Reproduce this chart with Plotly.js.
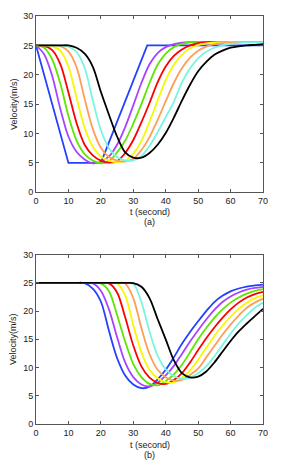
<!DOCTYPE html>
<html><head><meta charset="utf-8">
<script src="https://cdn.plot.ly/plotly-3.0.1.min.js"></script>
<style>html,body{margin:0;padding:0;background:#fff}#chart{width:283px;height:472px}</style>
</head><body><div id="chart"></div>
<script>
// shared time grid (seconds)
const tGrid = [0,2.5,5,7.5,10,12.5,15,17.5,20,22.5,25,27.5,30,32.5,35,37.5,40,42.5,45,47.5,50,52.5,55,57.5,60,62.5,65,67.5,70];

// ---- panel (a) ----
const blueA_t = [0,10,20,34.3,70];
const blueA_v = [25,5,5,25,25];
const purpleA = [25,23.5,19.8,14.2,9.5,6.9,5.6,4.95,5.2,6.1,8.1,11.1,14.8,18.6,21.8,23.7,24.7,25.2,25.45,25.55,25.6,25.6,25.6,25.6,25.6,25.6,25.6,25.6,25.6];
const greenA  = [25,24.6,22.6,18.5,13.0,8.8,6.5,5.4,4.95,5.3,6.8,8.8,11.7,15.0,18.6,21.7,23.6,24.7,25.25,25.5,25.6,25.6,25.6,25.6,25.6,25.6,25.6,25.6,25.6];
const redA    = [25,24.9,24.2,21.8,17.0,11.8,8.1,6.3,5.4,5.05,5.3,6.7,8.9,11.9,15.2,18.7,21.4,23.2,24.3,25.0,25.4,25.55,25.6,25.6,25.6,25.6,25.6,25.6,25.6];
const yellowA = [25,25,24.85,24.1,21.4,16.1,11.0,7.8,6.1,5.4,5.15,5.4,6.6,8.7,12.0,15.6,19.1,21.7,23.4,24.5,25.05,25.35,25.5,25.55,25.6,25.6,25.6,25.6,25.6];
const orangeA = [25,25,25,24.85,24.0,21.3,15.9,10.8,7.6,6.0,5.4,5.25,5.7,7.2,9.4,12.3,15.5,18.6,21.1,22.9,24.1,24.8,25.2,25.4,25.5,25.55,25.6,25.6,25.6];
const cyanA   = [25,25,25,25,24.8,23.9,21.2,15.7,10.6,7.5,6.0,5.4,5.45,6.2,7.9,10.2,12.8,15.4,18.7,21.1,22.8,23.9,24.6,25.0,25.25,25.4,25.5,25.5,25.55];
const blackA  = [25,25,25,25,25,24.6,23.6,21.4,17.1,13.2,9.5,6.8,5.9,5.9,6.7,8.1,10.1,12.7,15.6,18.3,20.6,22.2,23.4,24.1,24.6,24.85,25.0,25.1,25.2];

// ---- panel (b) ----
const blueB   = [25,25,25,25,25,25,24.95,24.0,21.7,16.5,11.7,8.6,7.0,6.35,6.6,7.9,9.6,11.8,14.2,16.3,18.2,20.0,21.6,22.7,23.5,24.0,24.35,24.55,24.7];
const purpleB = [25,25,25,25,25,25,25,24.9,23.6,20.3,15.4,10.9,8.3,7.0,6.65,7.3,8.6,10.3,12.4,14.6,16.6,18.5,20.2,21.6,22.6,23.3,23.8,24.1,24.3];
const greenB  = [25,25,25,25,25,25,25,25,24.9,23.5,19.3,14.6,10.6,8.3,7.1,6.85,7.6,8.8,10.5,12.7,15.0,17.0,18.8,20.3,21.5,22.4,23.1,23.6,23.9];
const redB    = [25,25,25,25,25,25,25,25,25,24.9,23.3,18.9,13.9,10.2,8.2,7.3,7.1,7.8,9.0,10.9,13.1,15.2,17.1,18.8,20.3,21.5,22.4,23.0,23.4];
const yellowB = [25,25,25,25,25,25,25,25,25,25,24.9,22.8,17.5,12.7,9.6,8.1,7.4,7.35,8.2,9.5,11.4,13.5,15.6,17.4,19.0,20.4,21.5,22.3,22.8];
const orangeB = [25,25,25,25,25,25,25,25,25,25,25,24.9,22.3,17.0,12.4,9.6,8.3,7.7,7.8,8.7,9.8,11.8,13.8,15.8,17.6,19.2,20.6,21.5,22.2];
const cyanB   = [25,25,25,25,25,25,25,25,25,25,25,25,24.85,21.6,16.4,12.1,9.7,8.5,8.0,8.2,9.0,10.2,12.0,14.0,16.0,17.8,19.3,20.6,21.5];
const blackB  = [25,25,25,25,25,25,25,25,25,25,25,25,24.95,24.3,22.3,18.6,15.0,11.3,9.0,8.25,8.4,9.3,10.9,12.8,14.7,16.4,17.8,19.1,20.4];

const xTicks = [0,10,20,30,40,50,60,70];
const yTicks = [0,5,10,15,20,25,30];
const colors = {blue:'#2341ff', purple:'#a744ff', green:'#5fe600', red:'#ff0000', yellow:'#f8f800', orange:'#ff9e57', cyan:'#78f5e1', black:'#000000'};

function tr(x, y, col, ax, shape){
  return {x:x, y:y, mode:'lines', type:'scatter', xaxis:'x'+ax, yaxis:'y'+ax,
    line:{color:col, width:1.8, shape:shape||'spline', smoothing:0.9}, hoverinfo:'skip', showlegend:false};
}
const data = [
  tr(blueA_t, blueA_v, colors.blue, '', 'linear'),
  tr(tGrid, purpleA, colors.purple, ''),
  tr(tGrid, greenA, colors.green, ''),
  tr(tGrid, redA, colors.red, ''),
  tr(tGrid, yellowA, colors.yellow, ''),
  tr(tGrid, orangeA, colors.orange, ''),
  tr(tGrid, cyanA, colors.cyan, ''),
  tr(tGrid, blackA, colors.black, ''),
  tr(tGrid, blueB, colors.blue, '2'),
  tr(tGrid, purpleB, colors.purple, '2'),
  tr(tGrid, greenB, colors.green, '2'),
  tr(tGrid, redB, colors.red, '2'),
  tr(tGrid, yellowB, colors.yellow, '2'),
  tr(tGrid, orangeB, colors.orange, '2'),
  tr(tGrid, cyanB, colors.cyan, '2'),
  tr(tGrid, blackB, colors.black, '2')
];

const fontF = 'Arial, "Liberation Sans", sans-serif';
function xa(anchor){ return {range:[0,70], tickvals:xTicks, ticks:'inside', ticklen:3, tickcolor:'#555',
  showline:true, linecolor:'#555', linewidth:1, mirror:'ticks', showgrid:false, zeroline:false,
  tickfont:{size:9, color:'#222', family:fontF}, anchor:anchor, domain:[0,1]}; }
function ya(anchor, dom){ return {range:[0,30], tickvals:yTicks, ticks:'inside', ticklen:3, tickcolor:'#555',
  showline:true, linecolor:'#555', linewidth:1, mirror:'ticks', showgrid:false, zeroline:false,
  tickfont:{size:9, color:'#222', family:fontF}, anchor:anchor, domain:dom}; }

const layout = {
  width:283, height:472, paper_bgcolor:'#fff', plot_bgcolor:'#fff',
  margin:{l:36.4, r:19.7, t:15.7, b:47.7},
  font:{family:fontF, size:9, color:'#222'},
  xaxis: xa('y'), yaxis: ya('x', [0.5678, 1]),
  xaxis2: xa('y2'), yaxis2: ya('x2', [0, 0.4151]),
  annotations:[
    {text:'Velocity(m/s)', xref:'paper', yref:'paper', x:-0.098, y:0.7839, textangle:-90, showarrow:false, xanchor:'center', yanchor:'middle', font:{size:9}},
    {text:'t (second)', xref:'paper', yref:'paper', x:0.5, y:0.5203, showarrow:false, xanchor:'center', yanchor:'middle', font:{size:9}},
    {text:'(a)', xref:'paper', yref:'paper', x:0.5, y:0.4958, showarrow:false, xanchor:'center', yanchor:'middle', font:{size:9}},
    {text:'Velocity(m/s)', xref:'paper', yref:'paper', x:-0.098, y:0.2076, textangle:-90, showarrow:false, xanchor:'center', yanchor:'middle', font:{size:9}},
    {text:'t (second)', xref:'paper', yref:'paper', x:0.5, y:-0.0514, showarrow:false, xanchor:'center', yanchor:'middle', font:{size:9}},
    {text:'(b)', xref:'paper', yref:'paper', x:0.5, y:-0.0759, showarrow:false, xanchor:'center', yanchor:'middle', font:{size:9}}
  ]
};
Plotly.newPlot('chart', data, layout, {staticPlot:true, displayModeBar:false});
</script></body></html>
